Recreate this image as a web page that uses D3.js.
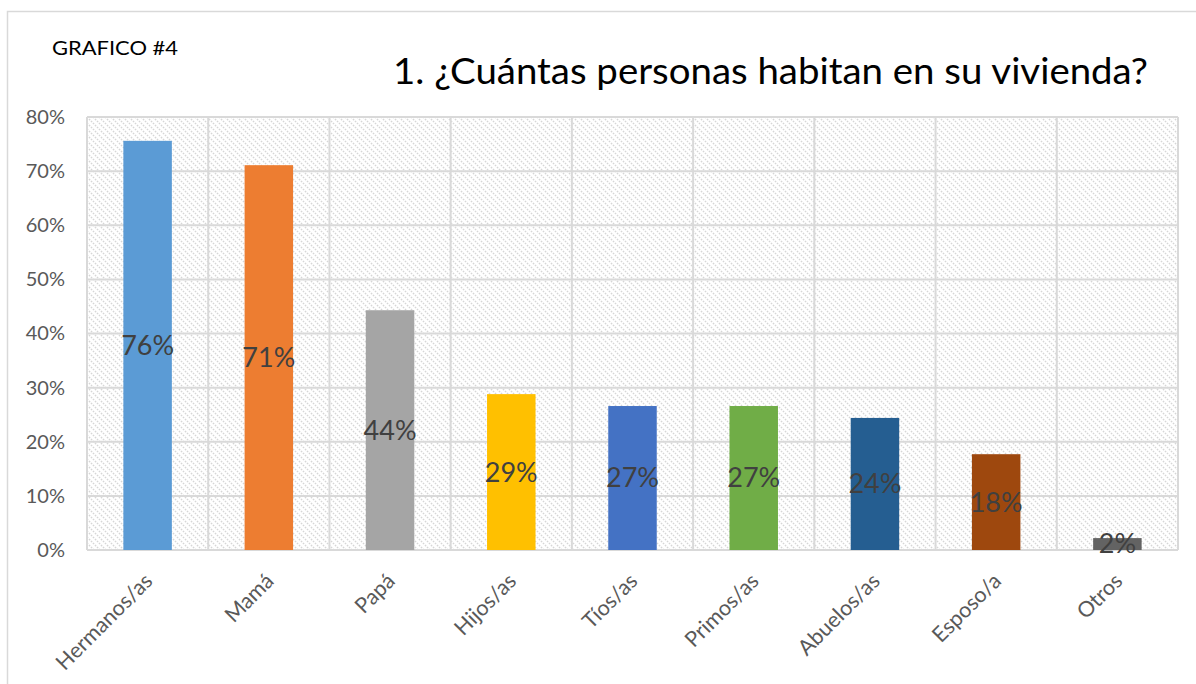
<!DOCTYPE html>
<html>
<head>
  <meta charset="UTF-8" />
  <title>Grafico 4</title>
  <script src="https://d3js.org/d3.v7.min.js"></script>
  <style>
    body { margin: 0; background: #fff; }
    text { font-family: Lato, "Open Sans", sans-serif; }
  </style>
</head>
<body>
  <div id="chart"></div>
  <script>
    // data
    const categories = ["Hermanos/as", "Mamá", "Papá", "Hijos/as", "Tíos/as", "Primos/as", "Abuelos/as", "Esposo/a", "Otros"];
    const values = [0.756, 0.711, 0.443, 0.288, 0.266, 0.266, 0.244, 0.177, 0.022];
    const barColors = ["#5B9BD5", "#ED7D31", "#A5A5A5", "#FFC000", "#4472C4", "#70AD47", "#255E91", "#9E480E", "#636363"];
    const yTicks = [0, 0.1, 0.2, 0.3, 0.4, 0.5, 0.6, 0.7, 0.8];

    const width = 1196, height = 684;
    const margin = { top: 117, right: 18, bottom: 134, left: 87 };

    const svg = d3.select("#chart")
      .append("svg")
      .attr("width", width)
      .attr("height", height);

    // hatched plot background
    const defs = svg.append("defs");
    const pat = defs.append("pattern")
      .attr("id", "hatch")
      .attr("patternUnits", "userSpaceOnUse")
      .attr("width", 6)
      .attr("height", 6);
    pat.append("rect").attr("width", 6).attr("height", 6).attr("fill", "#fff");
    pat.append("path")
      .attr("d", "M-1,-1 L7,7 M-1,5 L1,7 M5,-1 L7,1")
      .attr("stroke", "#d6d6d6")
      .attr("stroke-width", 1.4)
      .attr("stroke-dasharray", "1.6,1.2");

    // outer frame (top + left visible)
    svg.append("path")
      .attr("d", "M7.5," + height + " L7.5,11.5 L" + width + ",11.5")
      .attr("fill", "none")
      .attr("stroke", "#d9d9d9")
      .attr("stroke-width", 1.5);

    const x = d3.scaleBand()
      .domain(categories)
      .range([margin.left, width - margin.right])
      .paddingInner(0.6)
      .paddingOuter(0.3);

    const y = d3.scaleLinear()
      .domain([0, 0.8])
      .range([height - margin.bottom, margin.top]);

    const plotW = width - margin.right - margin.left;
    const plotH = height - margin.bottom - margin.top;

    svg.append("rect")
      .attr("x", margin.left)
      .attr("y", margin.top)
      .attr("width", plotW)
      .attr("height", plotH)
      .attr("fill", "url(#hatch)");

    // horizontal gridlines
    svg.append("g")
      .selectAll("line")
      .data(yTicks)
      .enter()
      .append("line")
      .attr("x1", margin.left)
      .attr("x2", width - margin.right)
      .attr("y1", d => y(d))
      .attr("y2", d => y(d))
      .attr("stroke", "#d9d9d9")
      .attr("stroke-width", 2);

    // vertical gridlines at category boundaries
    const step = x.step();
    const bounds = d3.range(categories.length + 1).map(i => margin.left + i * step);
    svg.append("g")
      .selectAll("line")
      .data(bounds)
      .enter()
      .append("line")
      .attr("x1", d => d)
      .attr("x2", d => d)
      .attr("y1", margin.top)
      .attr("y2", height - margin.bottom)
      .attr("stroke", "#d9d9d9")
      .attr("stroke-width", 2);

    // y axis
    const yAxis = d3.axisLeft(y)
      .tickValues(yTicks)
      .tickFormat(d3.format(".0%"))
      .tickSize(0)
      .tickPadding(22);
    const gy = svg.append("g")
      .attr("transform", "translate(" + margin.left + ",0)")
      .call(yAxis);
    gy.select(".domain").remove();
    gy.selectAll("text")
      .attr("fill", "#595959")
      .style("font-size", "20px");

    // x axis
    const xAxis = d3.axisBottom(x).tickSize(0).tickPadding(0);
    const gx = svg.append("g")
      .attr("transform", "translate(0," + (height - margin.bottom) + ")")
      .call(xAxis);
    gx.select(".domain").remove();
    gx.selectAll("text")
      .attr("fill", "#595959")
      .style("font-size", "21.5px")
      .attr("text-anchor", "end")
      .attr("dy", "0.35em")
      .attr("transform", "translate(1,27) rotate(-45)");

    // bars
    svg.selectAll(".bar")
      .data(values)
      .enter()
      .append("rect")
      .attr("class", "bar")
      .attr("x", (d, i) => x(categories[i]))
      .attr("y", d => y(d))
      .attr("width", x.bandwidth())
      .attr("height", d => y(0) - y(d))
      .attr("fill", (d, i) => barColors[i]);

    // value labels in the middle of each bar
    svg.selectAll(".label")
      .data(values)
      .enter()
      .append("text")
      .attr("class", "label")
      .attr("x", (d, i) => x(categories[i]) + x.bandwidth() / 2)
      .attr("y", d => (y(d) + y(0)) / 2)
      .attr("dy", "0.35em")
      .attr("text-anchor", "middle")
      .attr("fill", "#404040")
      .style("font-size", "27px")
      .text(d => Math.round(d * 100) + "%");

    // titles
    svg.append("text")
      .attr("x", 52)
      .attr("y", 55)
      .attr("fill", "#000")
      .style("font-size", "20px")
      .attr("textLength", 126)
      .attr("lengthAdjust", "spacingAndGlyphs")
      .text("GRAFICO #4");

    svg.append("text")
      .attr("x", 393)
      .attr("y", 84)
      .attr("fill", "#000")
      .style("font-size", "37px")
      .attr("textLength", 755)
      .attr("lengthAdjust", "spacingAndGlyphs")
      .text("1. ¿Cuántas personas habitan en su vivienda?");
  </script>
</body>
</html>
